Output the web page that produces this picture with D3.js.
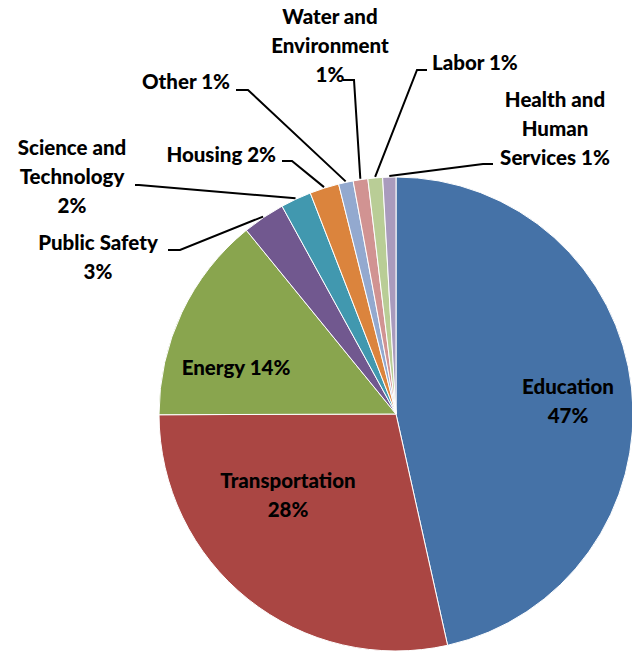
<!DOCTYPE html>
<html>
<head>
<meta charset="utf-8">
<script src="https://cdn.jsdelivr.net/npm/d3@7"></script>
<style>
  body { margin: 0; background: #fff; }
  svg text { font-family: Lato, "Open Sans", sans-serif; font-weight: 900; font-size: 20.5px; fill: #000; }
</style>
</head>
<body>
<svg id="chart" width="632" height="652"></svg>
<script>
// budget share by category, clockwise from 12 o'clock
let categories = ['Education', 'Transportation', 'Energy', 'Public Safety', 'Science and Technology',
    'Housing', 'Other', 'Water and Environment', 'Labor', 'Health and Human Services']
let shares = [46.6, 28.5, 14.2, 2.9, 2.1, 2.0, 1.0, 1.0, 1.0, 0.9]
let pctLabels = ['47%', '28%', '14%', '3%', '2%', '2%', '1%', '1%', '1%', '1%']
let colors = ['#4572A7', '#AA4643', '#89A54E', '#71588F', '#4198AF',
    '#DB843D', '#93A9CF', '#D19392', '#B9CD96', '#A99BBD']

// label text lines
let labelLines = [
    ['Education', '47%'],
    ['Transportation', '28%'],
    ['Energy 14%'],
    ['Public Safety', '3%'],
    ['Science and', 'Technology', '2%'],
    ['Housing 2%'],
    ['Other 1%'],
    ['Water and', 'Environment', '1%'],
    ['Labor 1%'],
    ['Health and', 'Human', 'Services 1%']
]

// layout for outside labels: elbow point, end of horizontal, text anchor point
let outside = {
    3: { elbow: [180, 250], end: [168, 250], text: [98, 243], anchor: 'middle' },
    4: { elbow: [139, 185], end: [135, 185], text: [72, 148], anchor: 'middle' },
    5: { elbow: [292, 161], end: [282, 161], text: [276, 155], anchor: 'end' },
    6: { elbow: [248, 90], end: [236, 90], text: [230, 82], anchor: 'end' },
    7: { elbow: [354, 80], end: [343, 80], text: [330, 17], anchor: 'middle' },
    8: { elbow: [417, 70], end: [427, 70], text: [432, 63], anchor: 'start' },
    9: { elbow: [483, 164], end: [493, 164], text: [555, 100], anchor: 'middle' }
}
let insidePos = { 0: [568, 387], 1: [288, 481], 2: [236, 368] }

let svg = d3.select('#chart')
let cx = 396, cy = 414, radius = 237
let lineH = 29

let data = categories.map(function(c, i){ return { name: c, value: shares[i], i: i } })
let pie = d3.pie().sort(null).value(function(d){ return d.value })
let arcs = pie(data)
let arc = d3.arc().innerRadius(0).outerRadius(radius)

let g = svg.append('g').attr('transform', 'translate(' + cx + ',' + cy + ')')

g.selectAll('path')
    .data(arcs)
    .enter().append('path')
    .attr('d', arc)
    .attr('fill', function(d){ return colors[d.data.i] })
    .attr('stroke', '#fff')
    .attr('stroke-width', 1)

/* -------------- LEADER LINES -------------- */

arcs.forEach(function(a){
    let o = outside[a.data.i]
    if(!o) return
    let mid = (a.startAngle + a.endAngle) / 2
    let r0 = radius + 1
    let sx = cx + Math.sin(mid) * r0
    let sy = cy - Math.cos(mid) * r0
    svg.append('polyline')
        .attr('points', [[sx, sy], o.elbow, o.end].map(function(p){ return p.join(',') }).join(' '))
        .attr('fill', 'none')
        .attr('stroke', '#000')
        .attr('stroke-width', 2)
})

/* -------------- LABELS -------------- */

labelLines.forEach(function(lines, i){
    let pos, anchor
    if(outside[i]) { pos = outside[i].text; anchor = outside[i].anchor }
    else { pos = insidePos[i]; anchor = 'middle' }
    let t = svg.append('text')
        .attr('text-anchor', anchor)
        .attr('x', pos[0])
        .attr('y', pos[1])
    lines.forEach(function(l, k){
        t.append('tspan')
            .attr('x', pos[0])
            .attr('y', pos[1] + k * lineH)
            .attr('dy', '0.35em')
            .text(l)
    })
})
</script>
</body>
</html>
